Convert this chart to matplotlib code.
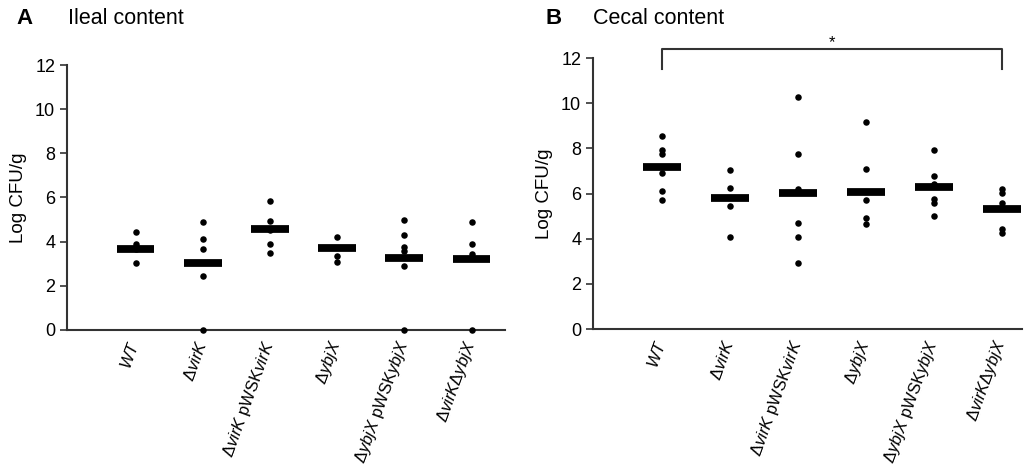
import numpy as np
import matplotlib
matplotlib.use("Agg")
import matplotlib.pyplot as plt

plt.rcParams['font.family'] = ['Liberation Sans', 'DejaVu Sans']
plt.rcParams['mathtext.fontset'] = 'custom'
plt.rcParams['mathtext.rm'] = 'Liberation Sans'
plt.rcParams['mathtext.it'] = 'Liberation Sans:italic'

strains = [r'$\mathit{WT}$',
           r'$\Delta\mathit{virK}$',
           r'$\Delta\mathit{virK}$ pWSK$\mathit{virK}$',
           r'$\Delta\mathit{ybjX}$',
           r'$\Delta\mathit{ybjX}$ pWSK$\mathit{ybjX}$',
           r'$\Delta\mathit{virK}\Delta\mathit{ybjX}$']

# ileal content, log CFU/g per mouse
ileal_pts = [
    [4.45, 3.9, 3.65, 3.05],
    [4.87, 4.12, 3.68, 2.43, 0.0],
    [5.86, 4.92, 4.55, 3.88, 3.49],
    [4.2, 3.35, 3.08],
    [4.98, 4.29, 3.75, 3.59, 2.88, 0.0],
    [4.89, 3.88, 3.42, 0.0],
]
ileal_mean = [3.65, 3.02, 4.57, 3.71, 3.25, 3.23]

# cecal content
cecal_pts = [
    [8.55, 7.93, 7.75, 6.92, 6.12, 5.70],
    [7.04, 6.23, 5.43, 4.06],
    [10.27, 7.74, 6.2, 4.71, 4.09, 2.91],
    [9.17, 7.1, 5.7, 4.9, 4.64],
    [7.94, 6.79, 6.41, 5.77, 5.59, 5.0],
    [6.19, 6.01, 5.57, 4.44, 4.26],
]
cecal_mean = [7.17, 5.80, 6.01, 6.07, 6.27, 5.31]

fig = plt.figure(figsize=(10.26, 4.68), dpi=100)
ax1 = fig.add_axes([0.0653, 0.295, 0.427, 0.566])
ax2 = fig.add_axes([0.578, 0.297, 0.418, 0.579])

def panel(ax, pts, means, xmax):
    x = np.arange(len(strains))
    ax.hlines(means, x - 0.28, x + 0.28, colors='black', lw=5.6, zorder=2)
    for i, p in enumerate(pts):
        ax.scatter([i] * len(p), p, s=22, color='black', zorder=3, clip_on=False, linewidths=0)
    ax.set_xlim(-1.02, xmax)
    ax.set_ylim(0, 12)
    ax.set_yticks(range(0, 13, 2))
    ax.set_xticks(x)
    ax.set_xticklabels(strains, rotation=70, ha='right', va='center',
                       rotation_mode='anchor', fontsize=12)
    ax.tick_params(axis='x', length=0, pad=8)
    ax.tick_params(axis='y', length=5, width=1.2, labelsize=13, color='#333333')
    for s in ['top', 'right']:
        ax.spines[s].set_visible(False)
    for s in ['left', 'bottom']:
        ax.spines[s].set_linewidth(1.5)
        ax.spines[s].set_color('#333333')
    ax.set_ylabel('Log CFU/g', fontsize=13.5, labelpad=6)

panel(ax1, ileal_pts, ileal_mean, 5.5)
panel(ax2, cecal_pts, cecal_mean, 5.3)

# significance bracket WT vs double mutant
ax2.plot([0, 0, 5, 5], [11.5, 12.4, 12.4, 11.5], color='#333333', lw=1.5, clip_on=False)
ax2.text(2.5, 12.35, '*', ha='center', va='bottom', fontsize=12)

fig.text(0.016, 0.96, 'A', fontsize=16, fontweight='bold', va='center')
fig.text(0.066, 0.96, 'Ileal content', fontsize=15.5, va='center')
fig.text(0.532, 0.96, 'B', fontsize=16, fontweight='bold', va='center')
fig.text(0.578, 0.96, 'Cecal content', fontsize=15.5, va='center')

fig.savefig('out.png', dpi=100)
